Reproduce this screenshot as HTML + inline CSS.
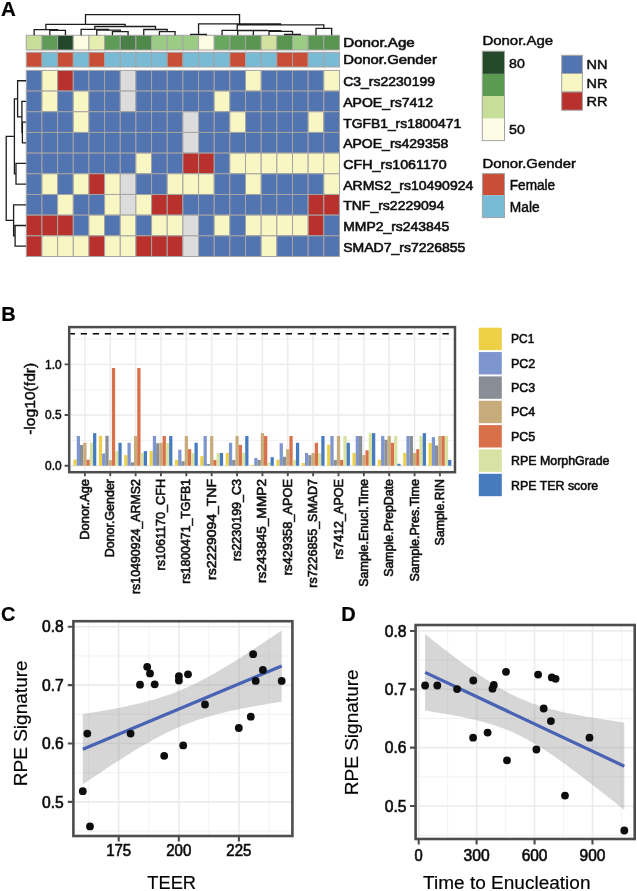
<!DOCTYPE html>
<html><head><meta charset="utf-8"><style>
html,body{margin:0;padding:0;background:#fff;width:637px;height:891px;overflow:hidden}
svg{display:block;will-change:transform}
text{font-family:"Liberation Sans", sans-serif}
</style></head><body>
<svg width="637" height="891" viewBox="0 0 637 891">
<rect width="637" height="891" fill="#fff"/>
<g stroke="#a4a4a4" stroke-width="1">
<rect x="26.30" y="35.3" width="15.66" height="14.7" fill="#c6de97"/>
<rect x="26.30" y="52.3" width="15.66" height="14.7" fill="#c94e38"/>
<rect x="41.96" y="35.3" width="15.66" height="14.7" fill="#5e9b56"/>
<rect x="41.96" y="52.3" width="15.66" height="14.7" fill="#79bad5"/>
<rect x="57.62" y="35.3" width="15.66" height="14.7" fill="#23472b"/>
<rect x="57.62" y="52.3" width="15.66" height="14.7" fill="#c94e38"/>
<rect x="73.28" y="35.3" width="15.66" height="14.7" fill="#fcfce2"/>
<rect x="73.28" y="52.3" width="15.66" height="14.7" fill="#79bad5"/>
<rect x="88.94" y="35.3" width="15.66" height="14.7" fill="#e5eeb0"/>
<rect x="88.94" y="52.3" width="15.66" height="14.7" fill="#c94e38"/>
<rect x="104.60" y="35.3" width="15.66" height="14.7" fill="#5e9b56"/>
<rect x="104.60" y="52.3" width="15.66" height="14.7" fill="#79bad5"/>
<rect x="120.26" y="35.3" width="15.66" height="14.7" fill="#4b7f47"/>
<rect x="120.26" y="52.3" width="15.66" height="14.7" fill="#79bad5"/>
<rect x="135.92" y="35.3" width="15.66" height="14.7" fill="#4f8a4a"/>
<rect x="135.92" y="52.3" width="15.66" height="14.7" fill="#79bad5"/>
<rect x="151.58" y="35.3" width="15.66" height="14.7" fill="#9ccb85"/>
<rect x="151.58" y="52.3" width="15.66" height="14.7" fill="#79bad5"/>
<rect x="167.24" y="35.3" width="15.66" height="14.7" fill="#9ccb85"/>
<rect x="167.24" y="52.3" width="15.66" height="14.7" fill="#c94e38"/>
<rect x="182.90" y="35.3" width="15.66" height="14.7" fill="#9ccb85"/>
<rect x="182.90" y="52.3" width="15.66" height="14.7" fill="#79bad5"/>
<rect x="198.56" y="35.3" width="15.66" height="14.7" fill="#fcfce2"/>
<rect x="198.56" y="52.3" width="15.66" height="14.7" fill="#79bad5"/>
<rect x="214.22" y="35.3" width="15.66" height="14.7" fill="#68a85e"/>
<rect x="214.22" y="52.3" width="15.66" height="14.7" fill="#79bad5"/>
<rect x="229.88" y="35.3" width="15.66" height="14.7" fill="#5e9b56"/>
<rect x="229.88" y="52.3" width="15.66" height="14.7" fill="#c94e38"/>
<rect x="245.54" y="35.3" width="15.66" height="14.7" fill="#58954f"/>
<rect x="245.54" y="52.3" width="15.66" height="14.7" fill="#79bad5"/>
<rect x="261.20" y="35.3" width="15.66" height="14.7" fill="#d2e29e"/>
<rect x="261.20" y="52.3" width="15.66" height="14.7" fill="#79bad5"/>
<rect x="276.86" y="35.3" width="15.66" height="14.7" fill="#58954f"/>
<rect x="276.86" y="52.3" width="15.66" height="14.7" fill="#c94e38"/>
<rect x="292.52" y="35.3" width="15.66" height="14.7" fill="#9ccb85"/>
<rect x="292.52" y="52.3" width="15.66" height="14.7" fill="#c94e38"/>
<rect x="308.18" y="35.3" width="15.66" height="14.7" fill="#5a9752"/>
<rect x="308.18" y="52.3" width="15.66" height="14.7" fill="#79bad5"/>
<rect x="323.84" y="35.3" width="15.66" height="14.7" fill="#58954f"/>
<rect x="323.84" y="52.3" width="15.66" height="14.7" fill="#79bad5"/>
<rect x="26.30" y="70.40" width="15.66" height="20.68" fill="#5274b1"/>
<rect x="41.96" y="70.40" width="15.66" height="20.68" fill="#f8f6c3"/>
<rect x="57.62" y="70.40" width="15.66" height="20.68" fill="#b9312c"/>
<rect x="73.28" y="70.40" width="15.66" height="20.68" fill="#5274b1"/>
<rect x="88.94" y="70.40" width="15.66" height="20.68" fill="#5274b1"/>
<rect x="104.60" y="70.40" width="15.66" height="20.68" fill="#5274b1"/>
<rect x="120.26" y="70.40" width="15.66" height="20.68" fill="#dcdcdd"/>
<rect x="135.92" y="70.40" width="15.66" height="20.68" fill="#5274b1"/>
<rect x="151.58" y="70.40" width="15.66" height="20.68" fill="#5274b1"/>
<rect x="167.24" y="70.40" width="15.66" height="20.68" fill="#5274b1"/>
<rect x="182.90" y="70.40" width="15.66" height="20.68" fill="#5274b1"/>
<rect x="198.56" y="70.40" width="15.66" height="20.68" fill="#5274b1"/>
<rect x="214.22" y="70.40" width="15.66" height="20.68" fill="#5274b1"/>
<rect x="229.88" y="70.40" width="15.66" height="20.68" fill="#5274b1"/>
<rect x="245.54" y="70.40" width="15.66" height="20.68" fill="#f8f6c3"/>
<rect x="261.20" y="70.40" width="15.66" height="20.68" fill="#5274b1"/>
<rect x="276.86" y="70.40" width="15.66" height="20.68" fill="#5274b1"/>
<rect x="292.52" y="70.40" width="15.66" height="20.68" fill="#5274b1"/>
<rect x="308.18" y="70.40" width="15.66" height="20.68" fill="#5274b1"/>
<rect x="323.84" y="70.40" width="15.66" height="20.68" fill="#f8f6c3"/>
<rect x="26.30" y="91.08" width="15.66" height="20.68" fill="#5274b1"/>
<rect x="41.96" y="91.08" width="15.66" height="20.68" fill="#f8f6c3"/>
<rect x="57.62" y="91.08" width="15.66" height="20.68" fill="#5274b1"/>
<rect x="73.28" y="91.08" width="15.66" height="20.68" fill="#f8f6c3"/>
<rect x="88.94" y="91.08" width="15.66" height="20.68" fill="#5274b1"/>
<rect x="104.60" y="91.08" width="15.66" height="20.68" fill="#5274b1"/>
<rect x="120.26" y="91.08" width="15.66" height="20.68" fill="#dcdcdd"/>
<rect x="135.92" y="91.08" width="15.66" height="20.68" fill="#5274b1"/>
<rect x="151.58" y="91.08" width="15.66" height="20.68" fill="#5274b1"/>
<rect x="167.24" y="91.08" width="15.66" height="20.68" fill="#5274b1"/>
<rect x="182.90" y="91.08" width="15.66" height="20.68" fill="#5274b1"/>
<rect x="198.56" y="91.08" width="15.66" height="20.68" fill="#5274b1"/>
<rect x="214.22" y="91.08" width="15.66" height="20.68" fill="#f8f6c3"/>
<rect x="229.88" y="91.08" width="15.66" height="20.68" fill="#5274b1"/>
<rect x="245.54" y="91.08" width="15.66" height="20.68" fill="#5274b1"/>
<rect x="261.20" y="91.08" width="15.66" height="20.68" fill="#5274b1"/>
<rect x="276.86" y="91.08" width="15.66" height="20.68" fill="#5274b1"/>
<rect x="292.52" y="91.08" width="15.66" height="20.68" fill="#5274b1"/>
<rect x="308.18" y="91.08" width="15.66" height="20.68" fill="#5274b1"/>
<rect x="323.84" y="91.08" width="15.66" height="20.68" fill="#5274b1"/>
<rect x="26.30" y="111.76" width="15.66" height="20.68" fill="#5274b1"/>
<rect x="41.96" y="111.76" width="15.66" height="20.68" fill="#5274b1"/>
<rect x="57.62" y="111.76" width="15.66" height="20.68" fill="#5274b1"/>
<rect x="73.28" y="111.76" width="15.66" height="20.68" fill="#f8f6c3"/>
<rect x="88.94" y="111.76" width="15.66" height="20.68" fill="#5274b1"/>
<rect x="104.60" y="111.76" width="15.66" height="20.68" fill="#5274b1"/>
<rect x="120.26" y="111.76" width="15.66" height="20.68" fill="#5274b1"/>
<rect x="135.92" y="111.76" width="15.66" height="20.68" fill="#5274b1"/>
<rect x="151.58" y="111.76" width="15.66" height="20.68" fill="#5274b1"/>
<rect x="167.24" y="111.76" width="15.66" height="20.68" fill="#5274b1"/>
<rect x="182.90" y="111.76" width="15.66" height="20.68" fill="#dcdcdd"/>
<rect x="198.56" y="111.76" width="15.66" height="20.68" fill="#5274b1"/>
<rect x="214.22" y="111.76" width="15.66" height="20.68" fill="#5274b1"/>
<rect x="229.88" y="111.76" width="15.66" height="20.68" fill="#f8f6c3"/>
<rect x="245.54" y="111.76" width="15.66" height="20.68" fill="#5274b1"/>
<rect x="261.20" y="111.76" width="15.66" height="20.68" fill="#5274b1"/>
<rect x="276.86" y="111.76" width="15.66" height="20.68" fill="#5274b1"/>
<rect x="292.52" y="111.76" width="15.66" height="20.68" fill="#5274b1"/>
<rect x="308.18" y="111.76" width="15.66" height="20.68" fill="#f8f6c3"/>
<rect x="323.84" y="111.76" width="15.66" height="20.68" fill="#5274b1"/>
<rect x="26.30" y="132.44" width="15.66" height="20.68" fill="#5274b1"/>
<rect x="41.96" y="132.44" width="15.66" height="20.68" fill="#5274b1"/>
<rect x="57.62" y="132.44" width="15.66" height="20.68" fill="#5274b1"/>
<rect x="73.28" y="132.44" width="15.66" height="20.68" fill="#5274b1"/>
<rect x="88.94" y="132.44" width="15.66" height="20.68" fill="#5274b1"/>
<rect x="104.60" y="132.44" width="15.66" height="20.68" fill="#5274b1"/>
<rect x="120.26" y="132.44" width="15.66" height="20.68" fill="#5274b1"/>
<rect x="135.92" y="132.44" width="15.66" height="20.68" fill="#5274b1"/>
<rect x="151.58" y="132.44" width="15.66" height="20.68" fill="#5274b1"/>
<rect x="167.24" y="132.44" width="15.66" height="20.68" fill="#5274b1"/>
<rect x="182.90" y="132.44" width="15.66" height="20.68" fill="#dcdcdd"/>
<rect x="198.56" y="132.44" width="15.66" height="20.68" fill="#5274b1"/>
<rect x="214.22" y="132.44" width="15.66" height="20.68" fill="#5274b1"/>
<rect x="229.88" y="132.44" width="15.66" height="20.68" fill="#5274b1"/>
<rect x="245.54" y="132.44" width="15.66" height="20.68" fill="#5274b1"/>
<rect x="261.20" y="132.44" width="15.66" height="20.68" fill="#5274b1"/>
<rect x="276.86" y="132.44" width="15.66" height="20.68" fill="#5274b1"/>
<rect x="292.52" y="132.44" width="15.66" height="20.68" fill="#5274b1"/>
<rect x="308.18" y="132.44" width="15.66" height="20.68" fill="#5274b1"/>
<rect x="323.84" y="132.44" width="15.66" height="20.68" fill="#5274b1"/>
<rect x="26.30" y="153.12" width="15.66" height="20.68" fill="#5274b1"/>
<rect x="41.96" y="153.12" width="15.66" height="20.68" fill="#5274b1"/>
<rect x="57.62" y="153.12" width="15.66" height="20.68" fill="#5274b1"/>
<rect x="73.28" y="153.12" width="15.66" height="20.68" fill="#5274b1"/>
<rect x="88.94" y="153.12" width="15.66" height="20.68" fill="#5274b1"/>
<rect x="104.60" y="153.12" width="15.66" height="20.68" fill="#5274b1"/>
<rect x="120.26" y="153.12" width="15.66" height="20.68" fill="#5274b1"/>
<rect x="135.92" y="153.12" width="15.66" height="20.68" fill="#f8f6c3"/>
<rect x="151.58" y="153.12" width="15.66" height="20.68" fill="#5274b1"/>
<rect x="167.24" y="153.12" width="15.66" height="20.68" fill="#5274b1"/>
<rect x="182.90" y="153.12" width="15.66" height="20.68" fill="#b9312c"/>
<rect x="198.56" y="153.12" width="15.66" height="20.68" fill="#b9312c"/>
<rect x="214.22" y="153.12" width="15.66" height="20.68" fill="#5274b1"/>
<rect x="229.88" y="153.12" width="15.66" height="20.68" fill="#f8f6c3"/>
<rect x="245.54" y="153.12" width="15.66" height="20.68" fill="#f8f6c3"/>
<rect x="261.20" y="153.12" width="15.66" height="20.68" fill="#f8f6c3"/>
<rect x="276.86" y="153.12" width="15.66" height="20.68" fill="#f8f6c3"/>
<rect x="292.52" y="153.12" width="15.66" height="20.68" fill="#f8f6c3"/>
<rect x="308.18" y="153.12" width="15.66" height="20.68" fill="#f8f6c3"/>
<rect x="323.84" y="153.12" width="15.66" height="20.68" fill="#f8f6c3"/>
<rect x="26.30" y="173.80" width="15.66" height="20.68" fill="#5274b1"/>
<rect x="41.96" y="173.80" width="15.66" height="20.68" fill="#f8f6c3"/>
<rect x="57.62" y="173.80" width="15.66" height="20.68" fill="#5274b1"/>
<rect x="73.28" y="173.80" width="15.66" height="20.68" fill="#f8f6c3"/>
<rect x="88.94" y="173.80" width="15.66" height="20.68" fill="#b9312c"/>
<rect x="104.60" y="173.80" width="15.66" height="20.68" fill="#f8f6c3"/>
<rect x="120.26" y="173.80" width="15.66" height="20.68" fill="#dcdcdd"/>
<rect x="135.92" y="173.80" width="15.66" height="20.68" fill="#5274b1"/>
<rect x="151.58" y="173.80" width="15.66" height="20.68" fill="#5274b1"/>
<rect x="167.24" y="173.80" width="15.66" height="20.68" fill="#f8f6c3"/>
<rect x="182.90" y="173.80" width="15.66" height="20.68" fill="#f8f6c3"/>
<rect x="198.56" y="173.80" width="15.66" height="20.68" fill="#f8f6c3"/>
<rect x="214.22" y="173.80" width="15.66" height="20.68" fill="#5274b1"/>
<rect x="229.88" y="173.80" width="15.66" height="20.68" fill="#5274b1"/>
<rect x="245.54" y="173.80" width="15.66" height="20.68" fill="#f8f6c3"/>
<rect x="261.20" y="173.80" width="15.66" height="20.68" fill="#5274b1"/>
<rect x="276.86" y="173.80" width="15.66" height="20.68" fill="#5274b1"/>
<rect x="292.52" y="173.80" width="15.66" height="20.68" fill="#5274b1"/>
<rect x="308.18" y="173.80" width="15.66" height="20.68" fill="#5274b1"/>
<rect x="323.84" y="173.80" width="15.66" height="20.68" fill="#f8f6c3"/>
<rect x="26.30" y="194.48" width="15.66" height="20.68" fill="#5274b1"/>
<rect x="41.96" y="194.48" width="15.66" height="20.68" fill="#5274b1"/>
<rect x="57.62" y="194.48" width="15.66" height="20.68" fill="#f8f6c3"/>
<rect x="73.28" y="194.48" width="15.66" height="20.68" fill="#5274b1"/>
<rect x="88.94" y="194.48" width="15.66" height="20.68" fill="#5274b1"/>
<rect x="104.60" y="194.48" width="15.66" height="20.68" fill="#f8f6c3"/>
<rect x="120.26" y="194.48" width="15.66" height="20.68" fill="#dcdcdd"/>
<rect x="135.92" y="194.48" width="15.66" height="20.68" fill="#f8f6c3"/>
<rect x="151.58" y="194.48" width="15.66" height="20.68" fill="#b9312c"/>
<rect x="167.24" y="194.48" width="15.66" height="20.68" fill="#b9312c"/>
<rect x="182.90" y="194.48" width="15.66" height="20.68" fill="#5274b1"/>
<rect x="198.56" y="194.48" width="15.66" height="20.68" fill="#5274b1"/>
<rect x="214.22" y="194.48" width="15.66" height="20.68" fill="#5274b1"/>
<rect x="229.88" y="194.48" width="15.66" height="20.68" fill="#5274b1"/>
<rect x="245.54" y="194.48" width="15.66" height="20.68" fill="#5274b1"/>
<rect x="261.20" y="194.48" width="15.66" height="20.68" fill="#5274b1"/>
<rect x="276.86" y="194.48" width="15.66" height="20.68" fill="#5274b1"/>
<rect x="292.52" y="194.48" width="15.66" height="20.68" fill="#5274b1"/>
<rect x="308.18" y="194.48" width="15.66" height="20.68" fill="#b9312c"/>
<rect x="323.84" y="194.48" width="15.66" height="20.68" fill="#b9312c"/>
<rect x="26.30" y="215.16" width="15.66" height="20.68" fill="#b9312c"/>
<rect x="41.96" y="215.16" width="15.66" height="20.68" fill="#b9312c"/>
<rect x="57.62" y="215.16" width="15.66" height="20.68" fill="#b9312c"/>
<rect x="73.28" y="215.16" width="15.66" height="20.68" fill="#5274b1"/>
<rect x="88.94" y="215.16" width="15.66" height="20.68" fill="#f8f6c3"/>
<rect x="104.60" y="215.16" width="15.66" height="20.68" fill="#5274b1"/>
<rect x="120.26" y="215.16" width="15.66" height="20.68" fill="#f8f6c3"/>
<rect x="135.92" y="215.16" width="15.66" height="20.68" fill="#5274b1"/>
<rect x="151.58" y="215.16" width="15.66" height="20.68" fill="#f8f6c3"/>
<rect x="167.24" y="215.16" width="15.66" height="20.68" fill="#f8f6c3"/>
<rect x="182.90" y="215.16" width="15.66" height="20.68" fill="#dcdcdd"/>
<rect x="198.56" y="215.16" width="15.66" height="20.68" fill="#5274b1"/>
<rect x="214.22" y="215.16" width="15.66" height="20.68" fill="#f8f6c3"/>
<rect x="229.88" y="215.16" width="15.66" height="20.68" fill="#5274b1"/>
<rect x="245.54" y="215.16" width="15.66" height="20.68" fill="#f8f6c3"/>
<rect x="261.20" y="215.16" width="15.66" height="20.68" fill="#f8f6c3"/>
<rect x="276.86" y="215.16" width="15.66" height="20.68" fill="#f8f6c3"/>
<rect x="292.52" y="215.16" width="15.66" height="20.68" fill="#f8f6c3"/>
<rect x="308.18" y="215.16" width="15.66" height="20.68" fill="#b9312c"/>
<rect x="323.84" y="215.16" width="15.66" height="20.68" fill="#5274b1"/>
<rect x="26.30" y="235.84" width="15.66" height="20.68" fill="#b9312c"/>
<rect x="41.96" y="235.84" width="15.66" height="20.68" fill="#f8f6c3"/>
<rect x="57.62" y="235.84" width="15.66" height="20.68" fill="#f8f6c3"/>
<rect x="73.28" y="235.84" width="15.66" height="20.68" fill="#f8f6c3"/>
<rect x="88.94" y="235.84" width="15.66" height="20.68" fill="#b9312c"/>
<rect x="104.60" y="235.84" width="15.66" height="20.68" fill="#f8f6c3"/>
<rect x="120.26" y="235.84" width="15.66" height="20.68" fill="#f8f6c3"/>
<rect x="135.92" y="235.84" width="15.66" height="20.68" fill="#b9312c"/>
<rect x="151.58" y="235.84" width="15.66" height="20.68" fill="#b9312c"/>
<rect x="167.24" y="235.84" width="15.66" height="20.68" fill="#b9312c"/>
<rect x="182.90" y="235.84" width="15.66" height="20.68" fill="#dcdcdd"/>
<rect x="198.56" y="235.84" width="15.66" height="20.68" fill="#5274b1"/>
<rect x="214.22" y="235.84" width="15.66" height="20.68" fill="#5274b1"/>
<rect x="229.88" y="235.84" width="15.66" height="20.68" fill="#5274b1"/>
<rect x="245.54" y="235.84" width="15.66" height="20.68" fill="#5274b1"/>
<rect x="261.20" y="235.84" width="15.66" height="20.68" fill="#f8f6c3"/>
<rect x="276.86" y="235.84" width="15.66" height="20.68" fill="#5274b1"/>
<rect x="292.52" y="235.84" width="15.66" height="20.68" fill="#5274b1"/>
<rect x="308.18" y="235.84" width="15.66" height="20.68" fill="#5274b1"/>
<rect x="323.84" y="235.84" width="15.66" height="20.68" fill="#5274b1"/>
</g>
<path d="M49.79,35.30V30.40H65.45V35.30 M34.13,35.30V29.60H57.62V30.40 M112.43,35.30V31.70H128.09V35.30 M96.77,35.30V30.10H120.26V31.70 M81.11,35.30V29.30H108.51V30.10 M159.41,35.30V31.70H175.07V35.30 M143.75,35.30V29.50H167.24V31.70 M94.81,29.30V26.50H155.50V29.50 M45.88,29.60V24.40H125.15V26.50 M190.73,35.30V34.40H206.39V35.30 M284.69,35.30V34.50H300.35V35.30 M269.03,35.30V31.30H292.52V34.50 M253.37,35.30V30.70H280.77V31.30 M237.71,35.30V30.50H267.07V30.70 M222.05,35.30V30.40H252.39V30.50 M316.01,35.30V28.30H331.67V35.30 M237.22,30.40V24.90H323.84V28.30 M198.56,34.40V23.80H280.53V24.90 M85.51,24.40V14.70H239.55V23.80 M26.00,122.10H22.40V142.78H26.00 M26.00,101.42H21.90V132.44H22.40 M26.00,80.74H17.60V116.93H21.90 M26.00,163.46H16.00V184.14H26.00 M17.60,98.84H14.40V173.80H16.00 M26.00,225.50H15.10V246.18H26.00 M26.00,204.82H13.60V235.84H15.10 M14.40,136.32H6.20V220.33H13.60" fill="none" stroke="#1c1c1c" stroke-width="1.3"/>
<text x="343.20" y="47.25" font-size="13.6" textLength="71.60" lengthAdjust="spacingAndGlyphs" stroke="#1a1a1a" stroke-width="0.65">Donor.Age</text>
<text x="343.20" y="64.05" font-size="13.6" textLength="93.70" lengthAdjust="spacingAndGlyphs" stroke="#1a1a1a" stroke-width="0.65">Donor.Gender</text>
<text x="343.20" y="86.24" font-size="13.6" textLength="91.80" lengthAdjust="spacingAndGlyphs" stroke="#1a1a1a" stroke-width="0.65">C3_rs2230199</text>
<text x="343.20" y="106.92" font-size="13.6" textLength="89.80" lengthAdjust="spacingAndGlyphs" stroke="#1a1a1a" stroke-width="0.65">APOE_rs7412</text>
<text x="343.20" y="127.60" font-size="13.6" textLength="118.00" lengthAdjust="spacingAndGlyphs" stroke="#1a1a1a" stroke-width="0.65">TGFB1_rs1800471</text>
<text x="343.20" y="148.28" font-size="13.6" textLength="105.10" lengthAdjust="spacingAndGlyphs" stroke="#1a1a1a" stroke-width="0.65">APOE_rs429358</text>
<text x="343.20" y="168.96" font-size="13.6" textLength="103.50" lengthAdjust="spacingAndGlyphs" stroke="#1a1a1a" stroke-width="0.65">CFH_rs1061170</text>
<text x="343.20" y="189.64" font-size="13.6" textLength="130.10" lengthAdjust="spacingAndGlyphs" stroke="#1a1a1a" stroke-width="0.65">ARMS2_rs10490924</text>
<text x="343.20" y="210.32" font-size="13.6" textLength="101.20" lengthAdjust="spacingAndGlyphs" stroke="#1a1a1a" stroke-width="0.65">TNF_rs2229094</text>
<text x="343.20" y="231.00" font-size="13.6" textLength="106.20" lengthAdjust="spacingAndGlyphs" stroke="#1a1a1a" stroke-width="0.65">MMP2_rs243845</text>
<text x="343.20" y="251.68" font-size="13.6" textLength="122.20" lengthAdjust="spacingAndGlyphs" stroke="#1a1a1a" stroke-width="0.65">SMAD7_rs7226855</text>
<text x="482.40" y="44.80" font-size="13.2" textLength="70.80" lengthAdjust="spacingAndGlyphs" stroke="#1a1a1a" stroke-width="0.5">Donor.Age</text>
<rect x="482.3" y="51.2" width="22.2" height="22.70" fill="#24492b"/>
<rect x="482.3" y="73.9" width="22.2" height="22.10" fill="#5b9b51"/>
<rect x="482.3" y="96.0" width="22.2" height="22.60" fill="#c6de97"/>
<rect x="482.3" y="118.6" width="22.2" height="22.00" fill="#fcfde4"/>
<rect x="482.3" y="51.2" width="22.2" height="89.4" fill="none" stroke="#a4a4a4" stroke-width="1"/>
<rect x="482.4" y="173.6" width="22.1" height="21.60" fill="#c94e38"/>
<rect x="482.4" y="195.2" width="22.1" height="22.40" fill="#79bad5"/>
<rect x="482.4" y="173.6" width="22.1" height="44.0" fill="none" stroke="#a4a4a4" stroke-width="1"/>
<g stroke="#a4a4a4" stroke-width="1">
<rect x="561.7" y="55.3" width="20.7" height="18.20" fill="#5274b1"/>
<rect x="561.7" y="73.5" width="20.7" height="18.50" fill="#f8f6c3"/>
<rect x="561.7" y="92.0" width="20.7" height="18.20" fill="#b9312c"/>
</g>
<text x="509.00" y="67.60" font-size="13.6" textLength="15.80" lengthAdjust="spacingAndGlyphs" stroke="#1a1a1a" stroke-width="0.5">80</text>
<text x="509.00" y="133.90" font-size="13.6" textLength="15.80" lengthAdjust="spacingAndGlyphs" stroke="#1a1a1a" stroke-width="0.5">50</text>
<text x="586.60" y="69.40" font-size="13.6" textLength="21.00" lengthAdjust="spacingAndGlyphs" stroke="#1a1a1a" stroke-width="0.5">NN</text>
<text x="586.60" y="87.60" font-size="13.6" textLength="21.00" lengthAdjust="spacingAndGlyphs" stroke="#1a1a1a" stroke-width="0.5">NR</text>
<text x="586.60" y="105.80" font-size="13.6" textLength="21.00" lengthAdjust="spacingAndGlyphs" stroke="#1a1a1a" stroke-width="0.5">RR</text>
<text x="482.40" y="167.60" font-size="13.2" textLength="93.60" lengthAdjust="spacingAndGlyphs" stroke="#1a1a1a" stroke-width="0.5">Donor.Gender</text>
<text x="509.80" y="189.60" font-size="14.0" textLength="45.40" lengthAdjust="spacingAndGlyphs" stroke="#1a1a1a" stroke-width="0.5">Female</text>
<text x="509.80" y="211.50" font-size="14.0" textLength="29.80" lengthAdjust="spacingAndGlyphs" stroke="#1a1a1a" stroke-width="0.5">Male</text>
<text x="0.90" y="15.80" font-size="20.5" font-weight="bold" fill="#000" stroke="#000" stroke-width="0.2">A</text>
<text x="1.30" y="320.60" font-size="20" font-weight="bold" fill="#000" stroke="#000" stroke-width="0.2">B</text>
<g stroke="#ebebeb">
<line x1="69.2" x2="455.0" y1="440.38" y2="440.38" stroke-width="0.7"/>
<line x1="69.2" x2="455.0" y1="389.73" y2="389.73" stroke-width="0.7"/>
<line x1="69.2" x2="455.0" y1="339.07" y2="339.07" stroke-width="0.7"/>
<line x1="69.2" x2="455.0" y1="465.70" y2="465.70" stroke-width="1.4"/>
<line x1="69.2" x2="455.0" y1="415.05" y2="415.05" stroke-width="1.4"/>
<line x1="69.2" x2="455.0" y1="364.40" y2="364.40" stroke-width="1.4"/>
<line x1="84.90" x2="84.90" y1="327.1" y2="472.2" stroke-width="1.4"/>
<line x1="110.26" x2="110.26" y1="327.1" y2="472.2" stroke-width="1.4"/>
<line x1="135.62" x2="135.62" y1="327.1" y2="472.2" stroke-width="1.4"/>
<line x1="160.98" x2="160.98" y1="327.1" y2="472.2" stroke-width="1.4"/>
<line x1="186.34" x2="186.34" y1="327.1" y2="472.2" stroke-width="1.4"/>
<line x1="211.70" x2="211.70" y1="327.1" y2="472.2" stroke-width="1.4"/>
<line x1="237.06" x2="237.06" y1="327.1" y2="472.2" stroke-width="1.4"/>
<line x1="262.42" x2="262.42" y1="327.1" y2="472.2" stroke-width="1.4"/>
<line x1="287.78" x2="287.78" y1="327.1" y2="472.2" stroke-width="1.4"/>
<line x1="313.14" x2="313.14" y1="327.1" y2="472.2" stroke-width="1.4"/>
<line x1="338.50" x2="338.50" y1="327.1" y2="472.2" stroke-width="1.4"/>
<line x1="363.86" x2="363.86" y1="327.1" y2="472.2" stroke-width="1.4"/>
<line x1="389.22" x2="389.22" y1="327.1" y2="472.2" stroke-width="1.4"/>
<line x1="414.58" x2="414.58" y1="327.1" y2="472.2" stroke-width="1.4"/>
<line x1="439.94" x2="439.94" y1="327.1" y2="472.2" stroke-width="1.4"/>
</g>
<rect x="73.49" y="459.62" width="3.26" height="6.08" fill="#eed047"/>
<rect x="76.75" y="436.02" width="3.26" height="29.68" fill="#7e96cf"/>
<rect x="80.01" y="444.93" width="3.26" height="20.77" fill="#898e96"/>
<rect x="83.27" y="442.81" width="3.26" height="22.89" fill="#c8ab7b"/>
<rect x="86.53" y="459.72" width="3.26" height="5.98" fill="#d8704a"/>
<rect x="89.79" y="442.81" width="3.26" height="22.89" fill="#d8e2a2"/>
<rect x="93.05" y="433.18" width="3.26" height="32.52" fill="#467bc0"/>
<rect x="98.85" y="435.82" width="3.26" height="29.88" fill="#eed047"/>
<rect x="102.11" y="453.54" width="3.26" height="12.16" fill="#7e96cf"/>
<rect x="105.37" y="435.82" width="3.26" height="29.88" fill="#898e96"/>
<rect x="108.63" y="460.23" width="3.26" height="5.47" fill="#c8ab7b"/>
<rect x="111.89" y="368.05" width="3.26" height="97.65" fill="#d8704a"/>
<rect x="115.15" y="451.11" width="3.26" height="14.59" fill="#d8e2a2"/>
<rect x="118.41" y="442.81" width="3.26" height="22.89" fill="#467bc0"/>
<rect x="124.21" y="455.06" width="3.26" height="10.64" fill="#eed047"/>
<rect x="127.47" y="442.81" width="3.26" height="22.89" fill="#7e96cf"/>
<rect x="130.73" y="462.36" width="3.26" height="3.34" fill="#898e96"/>
<rect x="133.99" y="436.02" width="3.26" height="29.68" fill="#c8ab7b"/>
<rect x="137.25" y="368.05" width="3.26" height="97.65" fill="#d8704a"/>
<rect x="140.51" y="453.04" width="3.26" height="12.66" fill="#d8e2a2"/>
<rect x="143.77" y="451.11" width="3.26" height="14.59" fill="#467bc0"/>
<rect x="149.57" y="451.11" width="3.26" height="14.59" fill="#eed047"/>
<rect x="152.83" y="436.02" width="3.26" height="29.68" fill="#7e96cf"/>
<rect x="156.09" y="443.21" width="3.26" height="22.49" fill="#898e96"/>
<rect x="159.35" y="442.81" width="3.26" height="22.89" fill="#c8ab7b"/>
<rect x="162.61" y="436.02" width="3.26" height="29.68" fill="#d8704a"/>
<rect x="165.87" y="442.81" width="3.26" height="22.89" fill="#d8e2a2"/>
<rect x="169.13" y="436.02" width="3.26" height="29.68" fill="#467bc0"/>
<rect x="174.93" y="459.72" width="3.26" height="5.98" fill="#eed047"/>
<rect x="178.19" y="449.69" width="3.26" height="16.01" fill="#7e96cf"/>
<rect x="181.45" y="461.24" width="3.26" height="4.46" fill="#898e96"/>
<rect x="184.71" y="436.02" width="3.26" height="29.68" fill="#c8ab7b"/>
<rect x="187.97" y="449.19" width="3.26" height="16.51" fill="#d8704a"/>
<rect x="191.23" y="453.04" width="3.26" height="12.66" fill="#d8e2a2"/>
<rect x="194.49" y="442.81" width="3.26" height="22.89" fill="#467bc0"/>
<rect x="200.29" y="456.18" width="3.26" height="9.52" fill="#eed047"/>
<rect x="203.55" y="436.02" width="3.26" height="29.68" fill="#7e96cf"/>
<rect x="206.81" y="463.98" width="3.26" height="1.72" fill="#898e96"/>
<rect x="210.07" y="436.02" width="3.26" height="29.68" fill="#c8ab7b"/>
<rect x="213.33" y="459.93" width="3.26" height="5.77" fill="#d8704a"/>
<rect x="216.59" y="453.04" width="3.26" height="12.66" fill="#d8e2a2"/>
<rect x="219.85" y="453.04" width="3.26" height="12.66" fill="#467bc0"/>
<rect x="225.65" y="452.83" width="3.26" height="12.87" fill="#eed047"/>
<rect x="228.91" y="442.81" width="3.26" height="22.89" fill="#7e96cf"/>
<rect x="232.17" y="459.93" width="3.26" height="5.77" fill="#898e96"/>
<rect x="235.43" y="436.02" width="3.26" height="29.68" fill="#c8ab7b"/>
<rect x="238.69" y="444.93" width="3.26" height="20.77" fill="#d8704a"/>
<rect x="241.95" y="452.83" width="3.26" height="12.87" fill="#d8e2a2"/>
<rect x="245.21" y="436.02" width="3.26" height="29.68" fill="#467bc0"/>
<rect x="251.01" y="464.79" width="3.26" height="0.91" fill="#eed047"/>
<rect x="254.27" y="458.00" width="3.26" height="7.70" fill="#7e96cf"/>
<rect x="257.53" y="459.93" width="3.26" height="5.77" fill="#898e96"/>
<rect x="260.79" y="433.18" width="3.26" height="32.52" fill="#c8ab7b"/>
<rect x="264.05" y="436.02" width="3.26" height="29.68" fill="#d8704a"/>
<rect x="267.31" y="462.36" width="3.26" height="3.34" fill="#d8e2a2"/>
<rect x="270.57" y="457.19" width="3.26" height="8.51" fill="#467bc0"/>
<rect x="276.37" y="459.72" width="3.26" height="5.98" fill="#eed047"/>
<rect x="279.63" y="443.21" width="3.26" height="22.49" fill="#7e96cf"/>
<rect x="282.89" y="456.79" width="3.26" height="8.91" fill="#898e96"/>
<rect x="286.15" y="449.19" width="3.26" height="16.51" fill="#c8ab7b"/>
<rect x="289.41" y="436.02" width="3.26" height="29.68" fill="#d8704a"/>
<rect x="292.67" y="459.72" width="3.26" height="5.98" fill="#d8e2a2"/>
<rect x="295.93" y="442.81" width="3.26" height="22.89" fill="#467bc0"/>
<rect x="301.73" y="462.96" width="3.26" height="2.74" fill="#eed047"/>
<rect x="304.99" y="453.04" width="3.26" height="12.66" fill="#7e96cf"/>
<rect x="308.25" y="455.06" width="3.26" height="10.64" fill="#898e96"/>
<rect x="311.51" y="453.04" width="3.26" height="12.66" fill="#c8ab7b"/>
<rect x="314.77" y="442.81" width="3.26" height="22.89" fill="#d8704a"/>
<rect x="318.03" y="453.04" width="3.26" height="12.66" fill="#d8e2a2"/>
<rect x="321.29" y="436.02" width="3.26" height="29.68" fill="#467bc0"/>
<rect x="327.09" y="444.73" width="3.26" height="20.97" fill="#eed047"/>
<rect x="330.35" y="436.02" width="3.26" height="29.68" fill="#7e96cf"/>
<rect x="333.61" y="459.93" width="3.26" height="5.77" fill="#898e96"/>
<rect x="336.87" y="436.02" width="3.26" height="29.68" fill="#c8ab7b"/>
<rect x="340.13" y="459.93" width="3.26" height="5.77" fill="#d8704a"/>
<rect x="343.39" y="436.02" width="3.26" height="29.68" fill="#d8e2a2"/>
<rect x="346.65" y="442.81" width="3.26" height="22.89" fill="#467bc0"/>
<rect x="352.45" y="452.83" width="3.26" height="12.87" fill="#eed047"/>
<rect x="355.71" y="436.02" width="3.26" height="29.68" fill="#7e96cf"/>
<rect x="358.97" y="436.02" width="3.26" height="29.68" fill="#898e96"/>
<rect x="362.23" y="455.06" width="3.26" height="10.64" fill="#c8ab7b"/>
<rect x="365.49" y="450.30" width="3.26" height="15.40" fill="#d8704a"/>
<rect x="368.75" y="433.18" width="3.26" height="32.52" fill="#d8e2a2"/>
<rect x="372.01" y="433.18" width="3.26" height="32.52" fill="#467bc0"/>
<rect x="377.81" y="459.72" width="3.26" height="5.98" fill="#eed047"/>
<rect x="381.07" y="436.02" width="3.26" height="29.68" fill="#7e96cf"/>
<rect x="384.33" y="439.77" width="3.26" height="25.93" fill="#898e96"/>
<rect x="387.59" y="436.02" width="3.26" height="29.68" fill="#c8ab7b"/>
<rect x="390.85" y="442.81" width="3.26" height="22.89" fill="#d8704a"/>
<rect x="394.11" y="436.02" width="3.26" height="29.68" fill="#d8e2a2"/>
<rect x="397.37" y="463.78" width="3.26" height="1.92" fill="#467bc0"/>
<rect x="403.17" y="452.83" width="3.26" height="12.87" fill="#eed047"/>
<rect x="406.43" y="436.02" width="3.26" height="29.68" fill="#7e96cf"/>
<rect x="409.69" y="436.02" width="3.26" height="29.68" fill="#898e96"/>
<rect x="412.95" y="453.04" width="3.26" height="12.66" fill="#c8ab7b"/>
<rect x="416.21" y="449.19" width="3.26" height="16.51" fill="#d8704a"/>
<rect x="419.47" y="436.02" width="3.26" height="29.68" fill="#d8e2a2"/>
<rect x="422.73" y="433.18" width="3.26" height="32.52" fill="#467bc0"/>
<rect x="428.53" y="442.91" width="3.26" height="22.79" fill="#eed047"/>
<rect x="431.79" y="437.13" width="3.26" height="28.57" fill="#7e96cf"/>
<rect x="435.05" y="445.44" width="3.26" height="20.26" fill="#898e96"/>
<rect x="438.31" y="436.02" width="3.26" height="29.68" fill="#c8ab7b"/>
<rect x="441.57" y="436.02" width="3.26" height="29.68" fill="#d8704a"/>
<rect x="444.83" y="436.02" width="3.26" height="29.68" fill="#d8e2a2"/>
<rect x="448.09" y="459.93" width="3.26" height="5.77" fill="#467bc0"/>
<line x1="70.2" x2="454.0" y1="333.7" y2="333.7" stroke="#000" stroke-width="1.6" stroke-dasharray="6.3 5.76" stroke-dashoffset="1.56"/>
<rect x="69.2" y="327.1" width="385.80" height="145.10" fill="none" stroke="#4d4d4d" stroke-width="2.5"/>
<path d="M64.6,465.70H69.2 M64.6,415.05H69.2 M64.6,364.40H69.2 M84.90,472.2V476.2 M110.26,472.2V476.2 M135.62,472.2V476.2 M160.98,472.2V476.2 M186.34,472.2V476.2 M211.70,472.2V476.2 M237.06,472.2V476.2 M262.42,472.2V476.2 M287.78,472.2V476.2 M313.14,472.2V476.2 M338.50,472.2V476.2 M363.86,472.2V476.2 M389.22,472.2V476.2 M414.58,472.2V476.2 M439.94,472.2V476.2" stroke="#4d4d4d" stroke-width="1.9"/>
<text x="61.60" y="469.80" font-size="12" textLength="16.60" lengthAdjust="spacingAndGlyphs" text-anchor="end" stroke="#1a1a1a" stroke-width="0.55">0.0</text>
<text x="61.60" y="419.15" font-size="12" textLength="16.60" lengthAdjust="spacingAndGlyphs" text-anchor="end" stroke="#1a1a1a" stroke-width="0.55">0.5</text>
<text x="61.60" y="368.50" font-size="12" textLength="16.60" lengthAdjust="spacingAndGlyphs" text-anchor="end" stroke="#1a1a1a" stroke-width="0.55">1.0</text>
<text x="0.00" y="0.00" font-size="15.5" textLength="72.10" lengthAdjust="spacingAndGlyphs" text-anchor="middle" transform="translate(35.3,398.8) rotate(-90)" stroke="#1a1a1a" stroke-width="0.5">-log10(fdr)</text>
<text x="0.00" y="0.00" font-size="12.6" textLength="60.70" lengthAdjust="spacingAndGlyphs" text-anchor="end" transform="translate(88.90,479.0) rotate(-90)" stroke="#1a1a1a" stroke-width="0.65">Donor.Age</text>
<text x="0.00" y="0.00" font-size="12.6" textLength="78.30" lengthAdjust="spacingAndGlyphs" text-anchor="end" transform="translate(114.26,479.0) rotate(-90)" stroke="#1a1a1a" stroke-width="0.65">Donor.Gender</text>
<text x="0.00" y="0.00" font-size="12.6" textLength="115.00" lengthAdjust="spacingAndGlyphs" text-anchor="end" transform="translate(139.62,479.0) rotate(-90)" stroke="#1a1a1a" stroke-width="0.65">rs10490924_ARMS2</text>
<text x="0.00" y="0.00" font-size="12.6" textLength="91.50" lengthAdjust="spacingAndGlyphs" text-anchor="end" transform="translate(164.98,479.0) rotate(-90)" stroke="#1a1a1a" stroke-width="0.65">rs1061170_CFH</text>
<text x="0.00" y="0.00" font-size="12.6" textLength="104.70" lengthAdjust="spacingAndGlyphs" text-anchor="end" transform="translate(190.34,479.0) rotate(-90)" stroke="#1a1a1a" stroke-width="0.65">rs1800471_TGFB1</text>
<text x="0.00" y="0.00" font-size="12.6" textLength="101.00" lengthAdjust="spacingAndGlyphs" text-anchor="end" transform="translate(215.70,479.0) rotate(-90)" stroke="#1a1a1a" stroke-width="0.65">rs2229094_TNF</text>
<text x="0.00" y="0.00" font-size="12.6" textLength="82.00" lengthAdjust="spacingAndGlyphs" text-anchor="end" transform="translate(241.06,479.0) rotate(-90)" stroke="#1a1a1a" stroke-width="0.65">rs2230199_C3</text>
<text x="0.00" y="0.00" font-size="12.6" textLength="104.00" lengthAdjust="spacingAndGlyphs" text-anchor="end" transform="translate(266.42,479.0) rotate(-90)" stroke="#1a1a1a" stroke-width="0.65">rs243845_MMP2</text>
<text x="0.00" y="0.00" font-size="12.6" textLength="96.20" lengthAdjust="spacingAndGlyphs" text-anchor="end" transform="translate(291.78,479.0) rotate(-90)" stroke="#1a1a1a" stroke-width="0.65">rs429358_APOE</text>
<text x="0.00" y="0.00" font-size="12.6" textLength="108.70" lengthAdjust="spacingAndGlyphs" text-anchor="end" transform="translate(317.14,479.0) rotate(-90)" stroke="#1a1a1a" stroke-width="0.65">rs7226855_SMAD7</text>
<text x="0.00" y="0.00" font-size="12.6" textLength="80.50" lengthAdjust="spacingAndGlyphs" text-anchor="end" transform="translate(342.50,479.0) rotate(-90)" stroke="#1a1a1a" stroke-width="0.65">rs7412_APOE</text>
<text x="0.00" y="0.00" font-size="12.6" textLength="107.80" lengthAdjust="spacingAndGlyphs" text-anchor="end" transform="translate(367.86,479.0) rotate(-90)" stroke="#1a1a1a" stroke-width="0.65">Sample.Enucl.Time</text>
<text x="0.00" y="0.00" font-size="12.6" textLength="97.80" lengthAdjust="spacingAndGlyphs" text-anchor="end" transform="translate(393.22,479.0) rotate(-90)" stroke="#1a1a1a" stroke-width="0.65">Sample.PrepDate</text>
<text x="0.00" y="0.00" font-size="12.6" textLength="102.50" lengthAdjust="spacingAndGlyphs" text-anchor="end" transform="translate(418.58,479.0) rotate(-90)" stroke="#1a1a1a" stroke-width="0.65">Sample.Pres.Time</text>
<text x="0.00" y="0.00" font-size="12.6" textLength="66.40" lengthAdjust="spacingAndGlyphs" text-anchor="end" transform="translate(443.94,479.0) rotate(-90)" stroke="#1a1a1a" stroke-width="0.65">Sample.RIN</text>
<rect x="478.8" y="327.70" width="23.0" height="22.4" fill="#eed047"/>
<text x="511.00" y="343.40" font-size="12.8" textLength="23.30" lengthAdjust="spacingAndGlyphs" stroke="#1a1a1a" stroke-width="0.62">PC1</text>
<rect x="478.8" y="352.05" width="23.0" height="22.4" fill="#7e96cf"/>
<text x="511.00" y="367.75" font-size="12.8" textLength="24.20" lengthAdjust="spacingAndGlyphs" stroke="#1a1a1a" stroke-width="0.62">PC2</text>
<rect x="478.8" y="376.40" width="23.0" height="22.4" fill="#898e96"/>
<text x="511.00" y="392.10" font-size="12.8" textLength="24.20" lengthAdjust="spacingAndGlyphs" stroke="#1a1a1a" stroke-width="0.62">PC3</text>
<rect x="478.8" y="400.75" width="23.0" height="22.4" fill="#c8ab7b"/>
<text x="511.00" y="416.45" font-size="12.8" textLength="24.30" lengthAdjust="spacingAndGlyphs" stroke="#1a1a1a" stroke-width="0.62">PC4</text>
<rect x="478.8" y="425.10" width="23.0" height="22.4" fill="#d8704a"/>
<text x="511.00" y="440.80" font-size="12.8" textLength="24.20" lengthAdjust="spacingAndGlyphs" stroke="#1a1a1a" stroke-width="0.62">PC5</text>
<rect x="478.8" y="449.45" width="23.0" height="22.4" fill="#d8e2a2"/>
<text x="511.00" y="465.15" font-size="12.8" textLength="98.50" lengthAdjust="spacingAndGlyphs" stroke="#1a1a1a" stroke-width="0.62">RPE MorphGrade</text>
<rect x="478.8" y="473.80" width="23.0" height="22.4" fill="#467bc0"/>
<text x="511.00" y="489.50" font-size="12.8" textLength="87.20" lengthAdjust="spacingAndGlyphs" stroke="#1a1a1a" stroke-width="0.62">RPE TER score</text>
<g stroke="#ebebeb">
<line x1="73.4" x2="292.4" y1="831.10" y2="831.10" stroke-width="0.7"/>
<line x1="73.4" x2="292.4" y1="772.72" y2="772.72" stroke-width="0.7"/>
<line x1="73.4" x2="292.4" y1="714.36" y2="714.36" stroke-width="0.7"/>
<line x1="73.4" x2="292.4" y1="655.99" y2="655.99" stroke-width="0.7"/>
<line x1="88.65" x2="88.65" y1="621.2" y2="836.0" stroke-width="0.6"/>
<line x1="148.75" x2="148.75" y1="621.2" y2="836.0" stroke-width="0.6"/>
<line x1="208.85" x2="208.85" y1="621.2" y2="836.0" stroke-width="0.6"/>
<line x1="268.95" x2="268.95" y1="621.2" y2="836.0" stroke-width="0.6"/>
<line x1="73.4" x2="292.4" y1="801.91" y2="801.91" stroke-width="1.6"/>
<line x1="73.4" x2="292.4" y1="743.54" y2="743.54" stroke-width="1.6"/>
<line x1="73.4" x2="292.4" y1="685.17" y2="685.17" stroke-width="1.6"/>
<line x1="73.4" x2="292.4" y1="626.80" y2="626.80" stroke-width="1.6"/>
<line x1="118.70" x2="118.70" y1="621.2" y2="836.0" stroke-width="1.6"/>
<line x1="178.80" x2="178.80" y1="621.2" y2="836.0" stroke-width="1.6"/>
<line x1="238.90" x2="238.90" y1="621.2" y2="836.0" stroke-width="1.6"/>
</g>
<polygon points="82.80,714.15 86.17,713.62 89.54,713.07 92.91,712.52 96.28,711.96 99.66,711.39 103.03,710.80 106.40,710.21 109.77,709.59 113.14,708.97 116.51,708.32 119.88,707.66 123.25,706.98 126.63,706.28 130.00,705.55 133.37,704.80 136.74,704.02 140.11,703.21 143.48,702.37 146.85,701.50 150.22,700.58 153.59,699.63 156.97,698.63 160.34,697.58 163.71,696.49 167.08,695.34 170.45,694.14 173.82,692.89 177.19,691.58 180.56,690.21 183.94,688.78 187.31,687.29 190.68,685.74 194.05,684.14 197.42,682.49 200.79,680.78 204.16,679.02 207.53,677.22 210.91,675.37 214.28,673.48 217.65,671.55 221.02,669.58 224.39,667.58 227.76,665.55 231.13,663.49 234.50,661.40 237.87,659.29 241.25,657.16 244.62,655.01 247.99,652.84 251.36,650.65 254.73,648.44 258.10,646.23 261.47,643.99 264.84,641.75 268.22,639.50 271.59,637.23 274.96,634.95 278.33,632.67 281.70,630.38 281.70,701.66 278.33,702.19 274.96,702.72 271.59,703.27 268.22,703.83 264.84,704.39 261.47,704.97 258.10,705.56 254.73,706.16 251.36,706.78 247.99,707.41 244.62,708.06 241.25,708.73 237.87,709.42 234.50,710.13 231.13,710.86 227.76,711.62 224.39,712.41 221.02,713.23 217.65,714.09 214.28,714.98 210.91,715.91 207.53,716.88 204.16,717.89 200.79,718.96 197.42,720.07 194.05,721.24 190.68,722.46 187.31,723.73 183.94,725.07 180.56,726.46 177.19,727.91 173.82,729.42 170.45,730.98 167.08,732.60 163.71,734.28 160.34,736.01 156.97,737.78 153.59,739.60 150.22,741.47 146.85,743.38 143.48,745.32 140.11,747.30 136.74,749.31 133.37,751.35 130.00,753.42 126.63,755.52 123.25,757.64 119.88,759.78 116.51,761.94 113.14,764.11 109.77,766.31 106.40,768.52 103.03,770.74 99.66,772.98 96.28,775.23 92.91,777.48 89.54,779.75 86.17,782.03 82.80,784.32" fill="#999999" fill-opacity="0.4"/>
<line x1="82.80" y1="749.23" x2="281.70" y2="666.02" stroke="#4862b4" stroke-width="3.2"/>
<circle cx="82.8" cy="791.2" r="3.9" fill="#0d0d0d"/>
<circle cx="87.3" cy="733.6" r="3.9" fill="#0d0d0d"/>
<circle cx="90" cy="826.4" r="3.9" fill="#0d0d0d"/>
<circle cx="130.6" cy="733.6" r="3.9" fill="#0d0d0d"/>
<circle cx="140" cy="684.7" r="3.9" fill="#0d0d0d"/>
<circle cx="147.2" cy="666.8" r="3.9" fill="#0d0d0d"/>
<circle cx="150" cy="673.4" r="3.9" fill="#0d0d0d"/>
<circle cx="154.7" cy="684.3" r="3.9" fill="#0d0d0d"/>
<circle cx="164.2" cy="755.8" r="3.9" fill="#0d0d0d"/>
<circle cx="178.9" cy="676.2" r="3.9" fill="#0d0d0d"/>
<circle cx="178.9" cy="680.5" r="3.9" fill="#0d0d0d"/>
<circle cx="183.2" cy="745.4" r="3.9" fill="#0d0d0d"/>
<circle cx="188" cy="674.3" r="3.9" fill="#0d0d0d"/>
<circle cx="205" cy="704.5" r="3.9" fill="#0d0d0d"/>
<circle cx="238.8" cy="728" r="3.9" fill="#0d0d0d"/>
<circle cx="250.8" cy="716.7" r="3.9" fill="#0d0d0d"/>
<circle cx="253.1" cy="654.2" r="3.9" fill="#0d0d0d"/>
<circle cx="255.7" cy="680.9" r="3.9" fill="#0d0d0d"/>
<circle cx="262.9" cy="670" r="3.9" fill="#0d0d0d"/>
<circle cx="281.7" cy="680.9" r="3.9" fill="#0d0d0d"/>
<rect x="73.4" y="621.2" width="219.00" height="214.80" fill="none" stroke="#4d4d4d" stroke-width="2.6"/>
<path d="M67.80,801.91H73.4 M67.80,743.54H73.4 M67.80,685.17H73.4 M67.80,626.80H73.4 M118.70,836.0V841.60 M178.80,836.0V841.60 M238.90,836.0V841.60" stroke="#4d4d4d" stroke-width="2.1"/>
<text x="63.80" y="807.51" font-size="16.5" textLength="21.70" lengthAdjust="spacingAndGlyphs" text-anchor="end" stroke="#1a1a1a" stroke-width="0.7">0.5</text>
<text x="63.80" y="749.14" font-size="16.5" textLength="21.70" lengthAdjust="spacingAndGlyphs" text-anchor="end" stroke="#1a1a1a" stroke-width="0.7">0.6</text>
<text x="63.80" y="690.77" font-size="16.5" textLength="21.70" lengthAdjust="spacingAndGlyphs" text-anchor="end" stroke="#1a1a1a" stroke-width="0.7">0.7</text>
<text x="63.80" y="632.40" font-size="16.5" textLength="21.70" lengthAdjust="spacingAndGlyphs" text-anchor="end" stroke="#1a1a1a" stroke-width="0.7">0.8</text>
<text x="118.70" y="856.40" font-size="16.5" textLength="25.10" lengthAdjust="spacingAndGlyphs" text-anchor="middle" stroke="#1a1a1a" stroke-width="0.7">175</text>
<text x="178.80" y="856.40" font-size="16.5" textLength="25.10" lengthAdjust="spacingAndGlyphs" text-anchor="middle" stroke="#1a1a1a" stroke-width="0.7">200</text>
<text x="238.90" y="856.40" font-size="16.5" textLength="25.10" lengthAdjust="spacingAndGlyphs" text-anchor="middle" stroke="#1a1a1a" stroke-width="0.7">225</text>
<text x="147.30" y="889.00" font-size="17.5" textLength="48.80" lengthAdjust="spacingAndGlyphs" stroke="#1a1a1a" stroke-width="0.2">TEER</text>
<text x="0.00" y="0.00" font-size="18.0" textLength="126.00" lengthAdjust="spacingAndGlyphs" text-anchor="middle" transform="translate(27.40,723.30) rotate(-90)" stroke="#1a1a1a" stroke-width="0.2">RPE Signature</text>
<text x="1.00" y="621.20" font-size="20" font-weight="bold" fill="#000" stroke="#000" stroke-width="0.2">C</text>
<g stroke="#ebebeb">
<line x1="415.6" x2="634.7" y1="835.15" y2="835.15" stroke-width="0.7"/>
<line x1="415.6" x2="634.7" y1="776.83" y2="776.83" stroke-width="0.7"/>
<line x1="415.6" x2="634.7" y1="718.50" y2="718.50" stroke-width="0.7"/>
<line x1="415.6" x2="634.7" y1="660.17" y2="660.17" stroke-width="0.7"/>
<line x1="447.66" x2="447.66" y1="625.0" y2="839.0" stroke-width="0.6"/>
<line x1="505.59" x2="505.59" y1="625.0" y2="839.0" stroke-width="0.6"/>
<line x1="563.52" x2="563.52" y1="625.0" y2="839.0" stroke-width="0.6"/>
<line x1="621.45" x2="621.45" y1="625.0" y2="839.0" stroke-width="0.6"/>
<line x1="415.6" x2="634.7" y1="805.99" y2="805.99" stroke-width="1.6"/>
<line x1="415.6" x2="634.7" y1="747.66" y2="747.66" stroke-width="1.6"/>
<line x1="415.6" x2="634.7" y1="689.33" y2="689.33" stroke-width="1.6"/>
<line x1="415.6" x2="634.7" y1="631.00" y2="631.00" stroke-width="1.6"/>
<line x1="418.70" x2="418.70" y1="625.0" y2="839.0" stroke-width="1.6"/>
<line x1="476.63" x2="476.63" y1="625.0" y2="839.0" stroke-width="1.6"/>
<line x1="534.56" x2="534.56" y1="625.0" y2="839.0" stroke-width="1.6"/>
<line x1="592.49" x2="592.49" y1="625.0" y2="839.0" stroke-width="1.6"/>
</g>
<polygon points="425.10,634.16 428.48,636.83 431.85,639.48 435.23,642.13 438.61,644.76 441.98,647.38 445.36,649.98 448.73,652.57 452.11,655.14 455.49,657.69 458.86,660.22 462.24,662.72 465.62,665.20 468.99,667.65 472.37,670.07 475.74,672.45 479.12,674.79 482.50,677.09 485.87,679.34 489.25,681.54 492.63,683.68 496.00,685.76 499.38,687.77 502.75,689.72 506.13,691.59 509.51,693.38 512.88,695.09 516.26,696.72 519.64,698.27 523.01,699.73 526.39,701.12 529.76,702.43 533.14,703.66 536.52,704.83 539.89,705.92 543.27,706.96 546.65,707.94 550.02,708.87 553.40,709.75 556.77,710.59 560.15,711.39 563.53,712.15 566.90,712.88 570.28,713.58 573.66,714.26 577.03,714.91 580.41,715.54 583.78,716.15 587.16,716.74 590.54,717.31 593.91,717.87 597.29,718.42 600.67,718.96 604.04,719.48 607.42,719.99 610.79,720.50 614.17,720.99 617.55,721.48 620.92,721.96 624.30,722.43 624.30,809.95 620.92,807.24 617.55,804.54 614.17,801.85 610.79,799.16 607.42,796.49 604.04,793.82 600.67,791.16 597.29,788.52 593.91,785.89 590.54,783.27 587.16,780.66 583.78,778.07 580.41,775.50 577.03,772.95 573.66,770.42 570.28,767.92 566.90,765.44 563.53,762.99 560.15,760.57 556.77,758.19 553.40,755.85 550.02,753.55 546.65,751.30 543.27,749.10 539.89,746.96 536.52,744.87 533.14,742.86 529.76,740.91 526.39,739.04 523.01,737.25 519.64,735.53 516.26,733.90 512.88,732.35 509.51,730.88 506.13,729.49 502.75,728.18 499.38,726.95 496.00,725.78 492.63,724.68 489.25,723.64 485.87,722.66 482.50,721.73 479.12,720.85 475.74,720.01 472.37,719.21 468.99,718.45 465.62,717.72 462.24,717.02 458.86,716.34 455.49,715.69 452.11,715.06 448.73,714.45 445.36,713.86 441.98,713.28 438.61,712.72 435.23,712.17 431.85,711.64 428.48,711.11 425.10,710.60" fill="#999999" fill-opacity="0.4"/>
<line x1="425.10" y1="672.38" x2="624.30" y2="766.19" stroke="#4862b4" stroke-width="3.2"/>
<circle cx="425.1" cy="685.5" r="3.9" fill="#0d0d0d"/>
<circle cx="437.3" cy="685.5" r="3.9" fill="#0d0d0d"/>
<circle cx="457.1" cy="689.1" r="3.9" fill="#0d0d0d"/>
<circle cx="473.3" cy="680.5" r="3.9" fill="#0d0d0d"/>
<circle cx="493.8" cy="685" r="3.9" fill="#0d0d0d"/>
<circle cx="492.5" cy="688.7" r="3.9" fill="#0d0d0d"/>
<circle cx="506" cy="671.8" r="3.9" fill="#0d0d0d"/>
<circle cx="487.6" cy="732.6" r="3.9" fill="#0d0d0d"/>
<circle cx="473.1" cy="737.7" r="3.9" fill="#0d0d0d"/>
<circle cx="507" cy="760.4" r="3.9" fill="#0d0d0d"/>
<circle cx="538.1" cy="674.6" r="3.9" fill="#0d0d0d"/>
<circle cx="551.8" cy="677.4" r="3.9" fill="#0d0d0d"/>
<circle cx="555.6" cy="678.8" r="3.9" fill="#0d0d0d"/>
<circle cx="543.7" cy="708.5" r="3.9" fill="#0d0d0d"/>
<circle cx="550.9" cy="721.1" r="3.9" fill="#0d0d0d"/>
<circle cx="589.5" cy="737.7" r="3.9" fill="#0d0d0d"/>
<circle cx="536.4" cy="749.5" r="3.9" fill="#0d0d0d"/>
<circle cx="565" cy="795.6" r="3.9" fill="#0d0d0d"/>
<circle cx="624.3" cy="830.5" r="3.9" fill="#0d0d0d"/>
<rect x="415.6" y="625.0" width="219.10" height="214.00" fill="none" stroke="#4d4d4d" stroke-width="2.6"/>
<path d="M410.00,805.99H415.6 M410.00,747.66H415.6 M410.00,689.33H415.6 M410.00,631.00H415.6 M418.70,839.0V844.60 M476.63,839.0V844.60 M534.56,839.0V844.60 M592.49,839.0V844.60" stroke="#4d4d4d" stroke-width="2.1"/>
<text x="406.50" y="811.59" font-size="16.5" textLength="21.70" lengthAdjust="spacingAndGlyphs" text-anchor="end" stroke="#1a1a1a" stroke-width="0.7">0.5</text>
<text x="406.50" y="753.26" font-size="16.5" textLength="21.70" lengthAdjust="spacingAndGlyphs" text-anchor="end" stroke="#1a1a1a" stroke-width="0.7">0.6</text>
<text x="406.50" y="694.93" font-size="16.5" textLength="21.70" lengthAdjust="spacingAndGlyphs" text-anchor="end" stroke="#1a1a1a" stroke-width="0.7">0.7</text>
<text x="406.50" y="636.60" font-size="16.5" textLength="21.70" lengthAdjust="spacingAndGlyphs" text-anchor="end" stroke="#1a1a1a" stroke-width="0.7">0.8</text>
<text x="418.70" y="860.80" font-size="16.5" textLength="8.20" lengthAdjust="spacingAndGlyphs" text-anchor="middle" stroke="#1a1a1a" stroke-width="0.7">0</text>
<text x="476.63" y="860.80" font-size="16.5" textLength="26.10" lengthAdjust="spacingAndGlyphs" text-anchor="middle" stroke="#1a1a1a" stroke-width="0.7">300</text>
<text x="534.56" y="860.80" font-size="16.5" textLength="25.80" lengthAdjust="spacingAndGlyphs" text-anchor="middle" stroke="#1a1a1a" stroke-width="0.7">600</text>
<text x="592.49" y="860.80" font-size="16.5" textLength="25.80" lengthAdjust="spacingAndGlyphs" text-anchor="middle" stroke="#1a1a1a" stroke-width="0.7">900</text>
<text x="423.10" y="889.00" font-size="17.5" textLength="167.40" lengthAdjust="spacingAndGlyphs" stroke="#1a1a1a" stroke-width="0.2">Time to Enucleation</text>
<text x="0.00" y="0.00" font-size="18.0" textLength="126.00" lengthAdjust="spacingAndGlyphs" text-anchor="middle" transform="translate(358.20,732.30) rotate(-90)" stroke="#1a1a1a" stroke-width="0.2">RPE Signature</text>
<text x="341.30" y="621.30" font-size="20" font-weight="bold" fill="#000" stroke="#000" stroke-width="0.2">D</text>
</svg>
</body></html>
